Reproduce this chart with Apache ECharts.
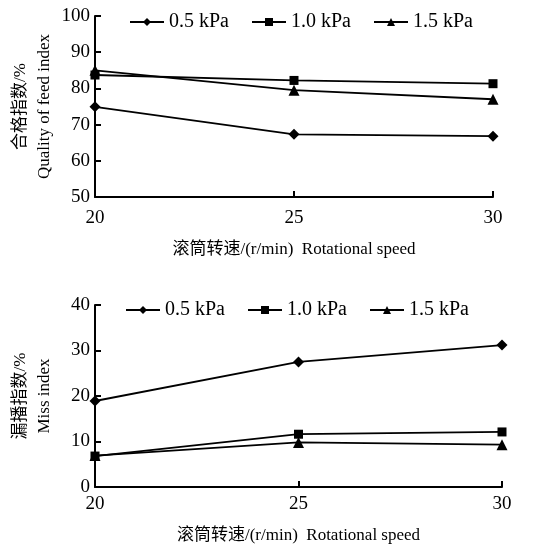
<!DOCTYPE html>
<html><head><meta charset="utf-8">
<script src="https://cdn.jsdelivr.net/npm/echarts@6/dist/echarts.min.js"></script>
<style>html,body{margin:0;padding:0;background:#fff}#c{width:554px;height:544px}</style>
</head><body><div id="c"></div>
<script>
const speeds = [20, 25, 30];
const seriesNames = ['0.5 kPa', '1.0 kPa', '1.5 kPa'];
const qualityIdx_05 = [74.9, 67.3, 66.8];
const qualityIdx_10 = [83.7, 82.2, 81.3];
const qualityIdx_15 = [85.0, 79.5, 77.0];
const missIdx_05 = [18.9, 27.5, 31.2];
const missIdx_10 = [6.8, 11.6, 12.1];
const missIdx_15 = [6.9, 9.8, 9.3];
const xTitle = '滚筒转速/(r/min)  Rotational speed';
const yTitleTop = '合格指数/%\nQuality of feed index';
const yTitleBottom = '漏播指数/%\nMiss index';

const FONT = "'Liberation Serif','Noto Sans CJK SC',serif";
const symbols = ['diamond', 'rect', 'triangle'];
const symSizes = [11, 9, 11];

function pairs(vals){ return speeds.map((s,i)=>[s, vals[i]]); }

function mkSeries(idx, data){
  return data.map((d,i)=>({
    name: seriesNames[i], type:'line', xAxisIndex: idx, yAxisIndex: idx,
    data: pairs(d), symbol: symbols[i], symbolSize: symSizes[i],
    lineStyle:{color:'#000', width:1.8}, itemStyle:{color:'#000'},
    animation:false
  }));
}

const axisCommon = {
  axisLine:{show:true, lineStyle:{color:'#000', width:2}},
  axisTick:{show:true, inside:true, length:6, lineStyle:{color:'#000', width:2}},
  splitLine:{show:false},
  axisLabel:{color:'#000', fontFamily:FONT, fontSize:19},
  nameTextStyle:{color:'#000', fontFamily:FONT, fontSize:17},
  nameMoveOverlap:false
};
const legendText = {color:'#000', fontFamily:FONT, fontSize:20};

const chart = echarts.init(document.getElementById('c'));
chart.setOption({
  backgroundColor:'#fff',
  animation:false,
  textStyle:{fontFamily:FONT},
  legend:[
    {data:seriesNames, left:124, top:7, itemWidth:34, itemHeight:10, itemGap:22, textStyle:legendText},
    {data:seriesNames, left:120, top:295, itemWidth:34, itemHeight:10, itemGap:22, textStyle:legendText}
  ],
  grid:[
    {left:95, right:61, top:16, height:181, outerBoundsMode:'none', containLabel:false},
    {left:95, right:52, top:305, height:182, outerBoundsMode:'none', containLabel:false}
  ],
  xAxis:[
    Object.assign({}, axisCommon, {gridIndex:0, type:'value', min:20, max:30, interval:5,
      name:xTitle, nameLocation:'middle', nameGap:44,
      axisLabel:Object.assign({}, axisCommon.axisLabel, {margin:12})}),
    Object.assign({}, axisCommon, {gridIndex:1, type:'value', min:20, max:30, interval:5,
      name:xTitle, nameLocation:'middle', nameGap:40,
      axisLabel:Object.assign({}, axisCommon.axisLabel, {margin:8})})
  ],
  yAxis:[
    Object.assign({}, axisCommon, {gridIndex:0, type:'value', min:50, max:100, interval:10,
      name:yTitleTop, nameLocation:'middle', nameGap:38, nameRotate:90,
      nameTextStyle:Object.assign({}, axisCommon.nameTextStyle, {lineHeight:24}),
      axisLabel:Object.assign({}, axisCommon.axisLabel, {margin:5})}),
    Object.assign({}, axisCommon, {gridIndex:1, type:'value', min:0, max:40, interval:10,
      name:yTitleBottom, nameLocation:'middle', nameGap:38, nameRotate:90,
      nameTextStyle:Object.assign({}, axisCommon.nameTextStyle, {lineHeight:24}),
      axisLabel:Object.assign({}, axisCommon.axisLabel, {margin:5})})
  ],
  series:[].concat(
    mkSeries(0,[qualityIdx_05, qualityIdx_10, qualityIdx_15]),
    mkSeries(1,[missIdx_05, missIdx_10, missIdx_15])
  )
});
</script></body></html>
